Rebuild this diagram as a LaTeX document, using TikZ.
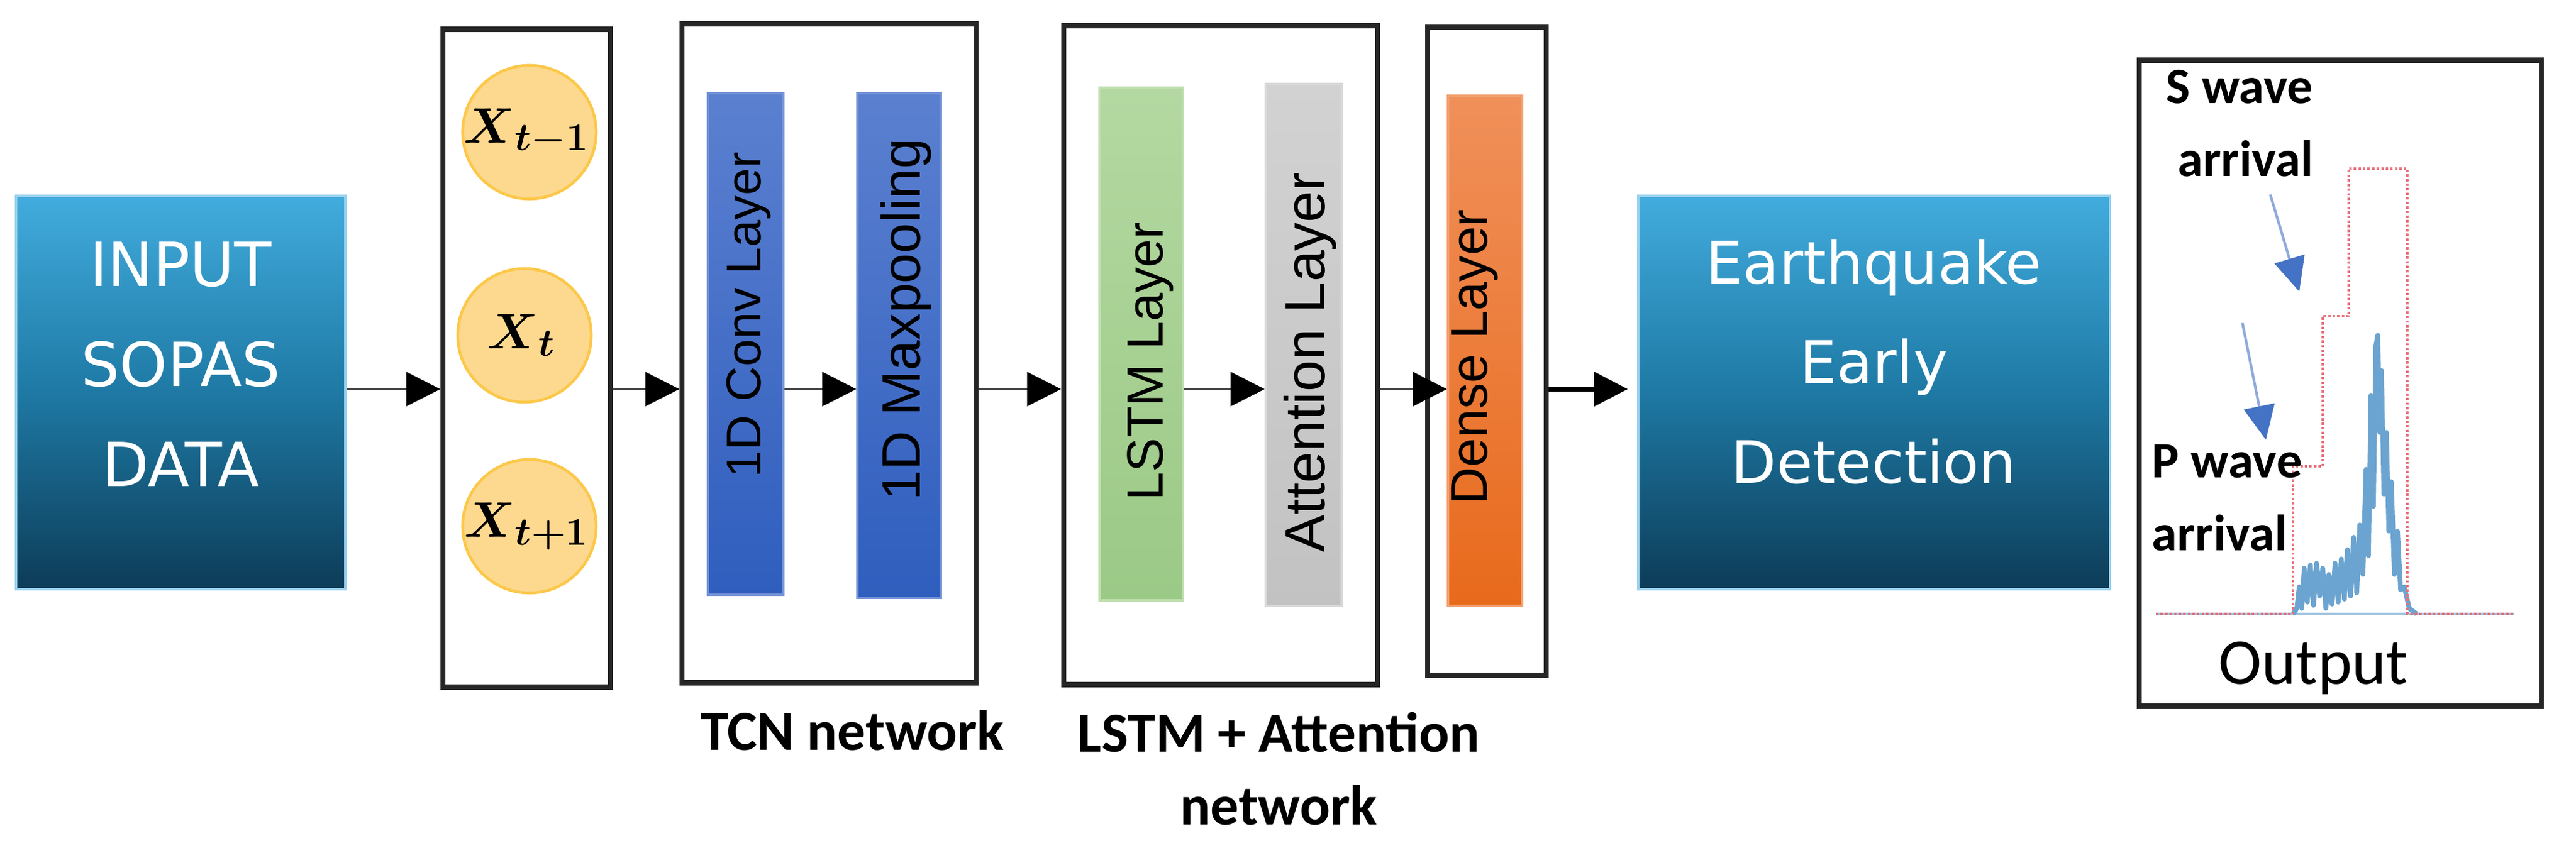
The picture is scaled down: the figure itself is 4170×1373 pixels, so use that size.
\RequirePackage{fix-cm}
\documentclass[tikz,border=0pt]{standalone}
\usepackage{amsmath}
\usepackage[no-math]{fontspec}
\newfontfamily\boxfont{DejaVu Sans}
\newfontfamily\barfont{Liberation Sans}
\newfontfamily\lblfont{Carlito}
\usetikzlibrary{arrows.meta}
\definecolor{skyA}{HTML}{42ACDE}
\definecolor{skyB}{HTML}{1E79A4}
\definecolor{skyC}{HTML}{0D3C58}
\definecolor{sunfill}{HTML}{FDD98F}
\definecolor{sunedge}{HTML}{FCC84A}
\definecolor{convA}{HTML}{5B80D0}
\definecolor{convB}{HTML}{2F5EBE}
\definecolor{grnA}{HTML}{B4D8A1}
\definecolor{grnB}{HTML}{9BC986}
\definecolor{greyA}{HTML}{D2D2D2}
\definecolor{greyB}{HTML}{C2C2C2}
\definecolor{orgA}{HTML}{F0905A}
\definecolor{orgB}{HTML}{E86A1C}
\definecolor{waveblue}{HTML}{3A86C0}
\definecolor{stepred}{HTML}{E9727C}
\definecolor{arrowblue}{HTML}{4472C4}
\definecolor{shaftblue}{HTML}{8FAADC}
\newcommand{\tok}[1]{$\boldsymbol{X}_{\mbox{\fontsize{18}{18}\selectfont$\boldsymbol{#1}$}}$}

\begin{document}
\begin{tikzpicture}[x=0.01cm,y=-0.01cm,every node/.style={inner sep=0pt},
    frame/.style={draw=black!85,line width=2.4pt},
    block/.style={draw=skyA!55,line width=1pt,top color=skyA,bottom color=skyC,middle color=skyB,
      minimum width=#1,minimum height=6.37cm},
    blocktxt/.style={text=white,align=center,font=\boxfont\fontsize{#1}{46}\selectfont},
    token/.style={circle,draw=sunedge,line width=1.3pt,fill=sunfill,minimum size=2.16cm},
    toktxt/.style={font=\fontsize{23}{28}\selectfont},
    bar/.style 2 args={draw=#1!85!white,line width=1pt,top color=#1,bottom color=#2},
    bartxt/.style={rotate=90,text=black,font=\barfont\fontsize{#1}{#1}\selectfont},
    arr/.style={draw=black!75,line width=1.1pt,-{Triangle[length=0.55cm,width=0.55cm,color=black]}},
    pointer/.style={draw=shaftblue,line width=1.2pt,-{Triangle[length=0.55cm,width=0.5cm,color=arrowblue]}},
    lbl/.style={font=\lblfont\bfseries\fontsize{#1}{33.5}\selectfont}]
  \useasboundingbox (0,0) rectangle (4170,1373);

  \node[block=5.33cm,label={[yshift=0.46cm,blocktxt=28]center:INPUT\\SOPAS\\DATA}] (input) at (292.5,635.5) {};
  \node[frame,minimum width=2.71cm,minimum height=10.64cm] (win) at (852.5,580) {};
  \foreach \n/\s/\x/\y in {c1/t{-}1/857/214,c2/t/849/543,c3/t{+}1/857/852}
    \node[token,label={[toktxt,xshift=-0.05cm]center:\tok{\s}}] (\n) at (\x,\y) {};

  % TCN part
  \node[frame,minimum width=4.76cm,minimum height=10.66cm] (tcn) at (1342,572) {};
  \node[bar={convA}{convB},minimum width=1.22cm,minimum height=8.12cm,
    label={[xshift=0.05cm,yshift=0.47cm,bartxt=22.5]center:1D Conv Layer}] (conv) at (1207,557) {};
  \node[bar={convA}{convB},minimum width=1.35cm,minimum height=8.17cm,
    label={[xshift=0.11cm,yshift=0.42cm,bartxt=25]center:1D Maxpooling}] (pool) at (1455.5,559.5) {};
  \node[lbl=26] (tcnlbl) at (1380,1183) {TCN network};

  % LSTM + attention part
  \node[frame,minimum width=5.08cm,minimum height=10.66cm] (lstmbox) at (1976,575) {};
  \node[bar={grnA}{grnB},minimum width=1.35cm,minimum height=8.30cm,
    label={[xshift=0.15cm,yshift=-0.28cm,bartxt=23.5]center:LSTM Layer}] (lstm) at (1847.5,557) {};
  \node[bar={greyA}{greyB},minimum width=1.23cm,minimum height=8.45cm,
    label={[xshift=0.1cm,yshift=-0.28cm,bartxt=26]center:Attention Layer}] (att) at (2110.5,558.5) {};
  \node[lbl=26,align=center] (lstmlbl) at (2070,1245) {LSTM + Attention\\network};

  \node[frame,minimum width=1.92cm,minimum height=10.49cm] (densebox) at (2407,568.5) {};
  \node[bar={orgA}{orgB},minimum width=1.20cm,minimum height=8.26cm,
    label={[xshift=-0.17cm,yshift=-0.1cm,bartxt=24]center:Dense Layer}] (dense) at (2404,568) {};

  \node[block=7.63cm,label={[yshift=0.5cm,blocktxt=27]center:Earthquake\\Early\\Detection}] (eq) at (3033.5,635.5) {};

  \coordinate (lvl) at (0,630);
  \foreach \a/\b in {input/win,win/tcn,conv/pool,tcn/lstmbox,lstm/att,lstmbox/dense}
    \draw[arr] (\a.east |- lvl) -- (\b.west |- lvl);
  \draw[arr,draw=black,line width=2.2pt,shorten >=0.15cm] (densebox.east |- lvl) -- (eq.west |- lvl);

  % output plot
  \node[frame,minimum width=6.51cm,minimum height=10.45cm] (out) at (3788.5,620.5) {};
  \draw[waveblue!45,line width=1pt] (3490,994) -- (4070,994);
  \draw[waveblue!75,line width=2.2pt,line join=round] plot coordinates {(3712,994) (3718,985)
    (3722,950) (3726,985) (3730,920) (3735,975) (3740,915) (3745,980) (3750,912) (3755,965) (3760,920)
    (3765,985) (3770,930) (3775,978) (3780,912) (3785,975) (3790,905) (3795,970) (3800,890) (3805,965)
    (3810,870) (3815,960) (3820,850) (3825,930) (3830,760) (3834,900) (3838,640) (3842,820) (3846,560)
    (3849,543) (3852,700) (3855,600) (3859,800) (3863,700) (3867,860) (3871,780) (3876,930) (3881,860)
    (3886,955) (3892,950) (3900,985) (3912,994)};
  \draw[stepred,densely dotted,line width=1.1pt] (3490,994) -- (3712,994) -- (3712,755) -- (3760,755)
    -- (3760,512) -- (3802,512) -- (3802,273) -- (3897,273) -- (3897,994) -- (4068,994);
  \node[lbl=23.5,align=right,anchor=east] (swave) at (3745,200) {S wave\\arrival};
  \node[lbl=23.5,align=left,anchor=west] (pwave) at (3483,806) {P wave\\arrival};
  \coordinate (s1) at (3675,315);
  \coordinate (s2) at (3722,472);
  \coordinate (p1) at (3630,523);
  \coordinate (p2) at (3668,712);
  \draw[pointer] (s1) -- (s2);
  \draw[pointer] (p1) -- (p2);
  \node[font=\lblfont\fontsize{30}{36}\selectfont] (outlbl) at (3745,1082) {Output};
\end{tikzpicture}
\end{document}
